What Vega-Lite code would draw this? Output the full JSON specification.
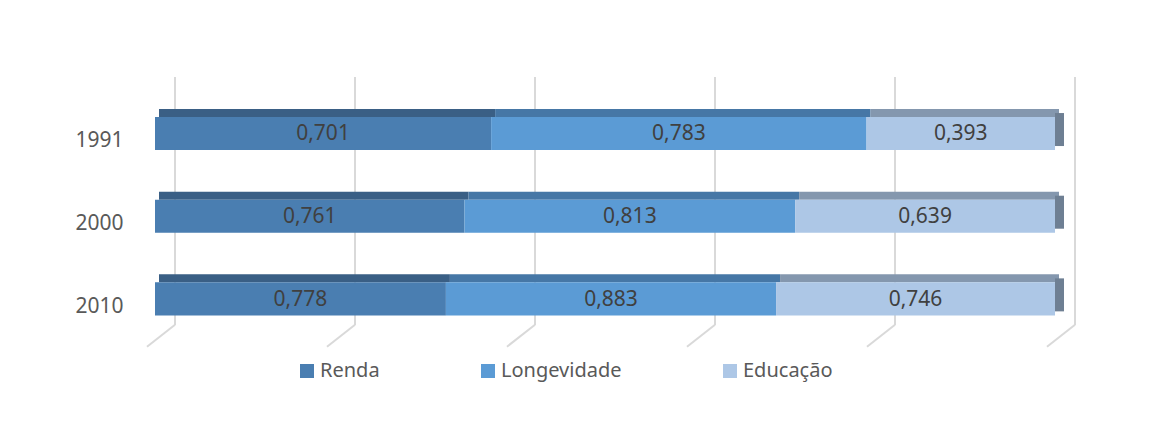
{
  "$schema": "https://vega.github.io/schema/vega-lite/v6.json",
  "width": 900,
  "height": 248,
  "autosize": {"type": "none"},
  "padding": {"left": 155, "top": 77, "right": 107, "bottom": 99},
  "background": "white",
  "datasets": {
    "idh": [
      {"year": "1991", "serie": "Renda", "o": 1, "value": 0.701},
      {"year": "1991", "serie": "Longevidade", "o": 2, "value": 0.783},
      {"year": "1991", "serie": "Educação", "o": 3, "value": 0.393},
      {"year": "2000", "serie": "Renda", "o": 1, "value": 0.761},
      {"year": "2000", "serie": "Longevidade", "o": 2, "value": 0.813},
      {"year": "2000", "serie": "Educação", "o": 3, "value": 0.639},
      {"year": "2010", "serie": "Renda", "o": 1, "value": 0.778},
      {"year": "2010", "serie": "Longevidade", "o": 2, "value": 0.883},
      {"year": "2010", "serie": "Educação", "o": 3, "value": 0.746}
    ],
    "grid": [{"g": 0}, {"g": 0.2}, {"g": 0.4}, {"g": 0.6}, {"g": 0.8}, {"g": 1}]
  },
  "data": {"name": "idh"},
  "layer": [
    {
      "data": {"name": "grid"},
      "mark": {"type": "rule", "color": "#D9D9D9", "strokeWidth": 2, "xOffset": 20},
      "encoding": {
        "x": {"field": "g", "type": "quantitative", "scale": {"domain": [0, 1], "nice": false}, "axis": null}
      }
    },
    {
      "data": {"name": "grid"},
      "mark": {"type": "rule", "color": "#D9D9D9", "strokeWidth": 2, "xOffset": 20, "x2Offset": -8, "yOffset": 41, "y2Offset": 63},
      "encoding": {
        "x": {"field": "g", "type": "quantitative"},
        "x2": {"field": "g"},
        "y": {"datum": "2010", "type": "nominal"},
        "y2": {"datum": "2010"}
      }
    },
    {
      "mark": {"type": "bar", "height": 8, "yOffset": -5.3, "xOffset": 4, "x2Offset": 4},
      "encoding": {
        "y": {"field": "year", "type": "nominal"},
        "x": {"field": "value", "type": "quantitative", "stack": "normalize"},
        "order": {"field": "o"},
        "color": {"field": "serie", "type": "nominal", "legend": null,
          "scale": {"domain": ["Renda", "Longevidade", "Educação"], "range": ["#3A5F85", "#4677A6", "#8497AE"]}}
      }
    },
    {
      "transform": [{"filter": "datum.serie === 'Educação'"}],
      "mark": {"type": "bar", "height": 33, "yOffset": 11.2, "x2Offset": 9, "color": "#6E7F93"},
      "encoding": {
        "y": {"field": "year", "type": "nominal"},
        "x": {"datum": 1, "type": "quantitative"},
        "x2": {"datum": 1}
      }
    },
    {
      "mark": {"type": "bar", "yOffset": 15.2},
      "encoding": {
        "y": {"field": "year", "type": "nominal",
          "scale": {"paddingInner": 0.6, "paddingOuter": 0.3},
          "axis": {"title": null, "domain": false, "ticks": false, "grid": false, "labelFontSize": 21, "labelColor": "#595959", "labelFont": "Noto Sans", "labelPadding": 32, "labelOffset": 23}},
        "x": {"field": "value", "type": "quantitative", "stack": "normalize"},
        "order": {"field": "o"},
        "color": {"field": "serie", "type": "nominal",
          "scale": {"domain": ["Renda", "Longevidade", "Educação"], "range": ["#4A7EB1", "#5B9BD5", "#ADC7E6"]},
          "legend": {"title": null, "orient": "none", "legendX": 142, "legendY": 284, "direction": "horizontal", "symbolType": "square", "symbolSize": 196, "symbolStrokeWidth": 0, "labelFontSize": 20, "labelColor": "#595959", "labelFont": "Noto Sans", "columnPadding": 98, "labelOffset": 3, "padding": 0, "labelLimit": 400}}
      }
    },
    {
      "mark": {"type": "text", "yOffset": 16, "fontSize": 21, "font": "Noto Sans", "color": "#404040", "baseline": "middle", "align": "center"},
      "encoding": {
        "y": {"field": "year", "type": "nominal"},
        "x": {"field": "value", "type": "quantitative", "stack": "normalize", "bandPosition": 0.5},
        "order": {"field": "o"},
        "text": {"field": "value", "type": "quantitative", "format": ".3f"}
      }
    }
  ],
  "resolve": {"scale": {"color": "independent"}},
  "config": {
    "view": {"stroke": null},
    "locale": {"number": {"decimal": ",", "thousands": ".", "grouping": [3], "currency": ["", ""]}}
  }
}
